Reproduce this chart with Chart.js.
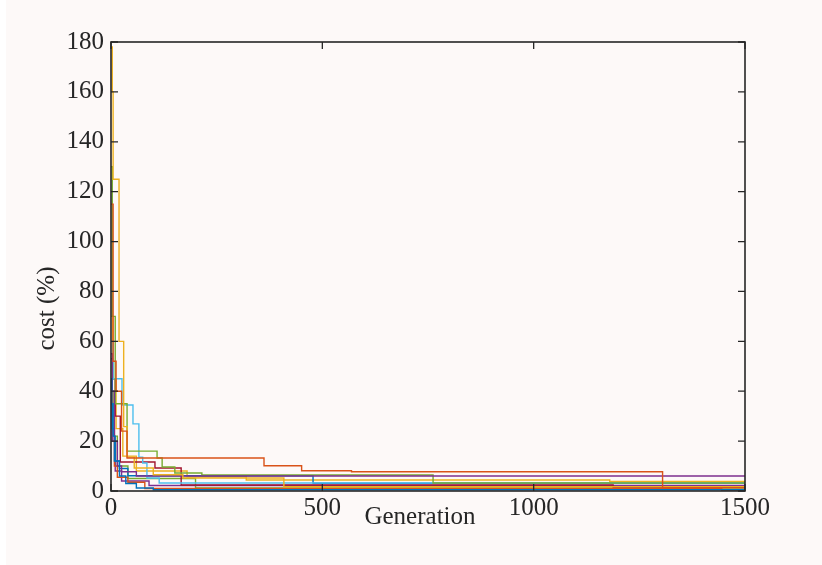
<!DOCTYPE html>
<html>
<head>
<meta charset="utf-8">
<script src="https://cdn.jsdelivr.net/npm/chart.js@4.4.0/dist/chart.umd.min.js"></script>
<style>
  html, body { margin: 0; padding: 0; background: #fdf9f8; }
  #wrap { width: 822px; height: 565px; }
</style>
</head>
<body>
<div id="wrap"><canvas id="myChart" width="822" height="565"></canvas></div>
<script>
// best cost per run: generation where the value changes, and the cost from then on
var run1Gen  = [0, 2, 5, 10, 20, 35, 60, 100, 1500];
var run1Cost = [45, 35, 22, 12, 6, 3, 1.2, 0.5, 0.5];

var run2Gen  = [0, 5, 12, 25, 38, 362, 451, 569, 1305, 1500];
var run2Cost = [115, 52, 40, 24, 13.2, 10.1, 8.1, 7.7, 1.3, 1.3];

var run3Gen  = [0, 3, 5, 19, 30, 38, 55, 100, 170, 409, 1500];
var run3Cost = [178, 160, 125, 60, 25.8, 13.6, 9.2, 6.5, 5.2, 1.7, 1.7];

var run4Gen  = [0, 3, 8, 15, 25, 60, 1500];
var run4Cost = [55, 40, 20, 10, 7.7, 6.0, 6.0];

var run5Gen  = [0, 3, 10, 38, 109, 121, 151, 215, 762, 1500];
var run5Cost = [130, 70, 35, 16, 13.2, 9.6, 7.2, 6.4, 3.2, 3.2];

var run6Gen  = [0, 5, 26, 52, 66, 75, 85, 114, 1500];
var run6Cost = [60, 45, 34.5, 26.9, 13.6, 11.2, 5.2, 3.2, 2.5];

var run7Gen  = [0, 4, 10, 22, 104, 166, 1188, 1500];
var run7Cost = [53, 45, 30, 11.6, 9.2, 2.4, 1.5, 1.5];

var run8Gen  = [0, 3, 8, 20, 40, 478, 1500];
var run8Cost = [35, 25, 12, 9, 6.1, 3.1, 2.8];

var run9Gen  = [0, 3, 8, 15, 40, 80, 1445, 1500];
var run9Cost = [45, 30, 10, 5.5, 3.5, 1.0, 0.3, 0.3];

var run10Gen  = [0, 4, 12, 28, 60, 180, 320, 1180, 1500];
var run10Cost = [70, 45, 25, 14, 8, 5.7, 4.4, 3.8, 3.8];

var run11Gen  = [0, 3, 10, 25, 90, 1500];
var run11Cost = [35, 20, 8, 4, 2.2, 2.2];

var run12Gen  = [0, 5, 15, 40, 200, 1500];
var run12Cost = [40, 22, 10, 5, 1.2, 1.0];

var xTicks = [0, 500, 1000, 1500];
var yTicks = [0, 20, 40, 60, 80, 100, 120, 140, 160, 180];
var xTitle = 'Generation';
var yTitle = 'cost (%)';

// MATLAB default line colours
var colours = ['#0072BD', '#D95319', '#EDB120', '#7E2F8E', '#77AC30', '#4DBEEE', '#A2142F'];

var runs = [
    [run1Gen, run1Cost], [run2Gen, run2Cost], [run3Gen, run3Cost], [run4Gen, run4Cost],
    [run5Gen, run5Cost], [run6Gen, run6Cost], [run7Gen, run7Cost], [run8Gen, run8Cost],
    [run9Gen, run9Cost], [run10Gen, run10Cost], [run11Gen, run11Cost], [run12Gen, run12Cost]
];

var datasets = [];
for (var i = 0; i < runs.length; i++) {
    var pts = [];
    for (var j = 0; j < runs[i][0].length; j++) {
        pts.push({x: runs[i][0][j], y: runs[i][1][j]});
    }
    datasets.push({
        label: 'run ' + (i + 1),
        data: pts,
        borderColor: colours[i % colours.length],
        borderWidth: 1.4,
        pointRadius: 0,
        stepped: 'before',   // hold the value, then drop at the next generation
        fill: false
    });
}

var ink = '#262626';
var serif = "'Liberation Serif', 'Times New Roman', serif";

// white strip + pinkish background
var bgPlugin = {
    id: 'bg',
    beforeDraw: function(chart) {
        var c = chart.ctx;
        c.save();
        c.fillStyle = '#fdf9f8';
        c.fillRect(0, 0, chart.width, chart.height);
        c.fillStyle = '#ffffff';
        c.fillRect(0, 0, 6, chart.height);
        c.restore();
    }
};

// box around the axes with ticks pointing inward, like MATLAB, plus axis labels
var boxPlugin = {
    id: 'box',
    afterDatasetsDraw: function(chart) {
        var c = chart.ctx;
        var a = chart.chartArea;
        var xs = chart.scales.x, ys = chart.scales.y;
        c.save();
        c.strokeStyle = ink;
        c.lineWidth = 1.6;
        c.strokeRect(a.left, a.top, a.right - a.left, a.bottom - a.top);
        c.lineWidth = 1.3;
        c.beginPath();
        yTicks.forEach(function(v) {
            var y = ys.getPixelForValue(v);
            c.moveTo(a.left, y); c.lineTo(a.left + 7, y);
            c.moveTo(a.right, y); c.lineTo(a.right - 7, y);
        });
        xTicks.forEach(function(v) {
            var x = xs.getPixelForValue(v);
            c.moveTo(x, a.bottom); c.lineTo(x, a.bottom - 7);
            c.moveTo(x, a.top); c.lineTo(x, a.top + 7);
        });
        c.stroke();

        // axis labels (sit a little left / low of centre in the original)
        c.fillStyle = ink;
        c.font = '25px ' + serif;
        c.textAlign = 'center';
        c.textBaseline = 'middle';
        c.fillText(xTitle, (a.left + a.right) / 2 - 8, a.bottom + 26);
        c.translate(47, (a.top + a.bottom) / 2 + 42);
        c.rotate(-Math.PI / 2);
        c.fillText(yTitle, 0, 0);
        c.restore();
    }
};

const ctx = document.getElementById('myChart');
var myChart = new Chart(ctx, {
    type: 'line',
    data: { datasets: datasets },
    plugins: [bgPlugin, boxPlugin],
    options: {
        responsive: false,
        animation: false,
        events: [],
        layout: { padding: { top: 42, right: 77, left: 0, bottom: 0 } },
        plugins: { legend: { display: false }, tooltip: { enabled: false } },
        scales: {
            x: {
                type: 'linear',
                min: 0, max: 1500,
                afterFit: function(s) { s.height = 74; },
                afterBuildTicks: function(s) { s.ticks = xTicks.map(function(v) { return {value: v}; }); },
                grid: { display: false, drawTicks: false },
                border: { display: false },
                ticks: { color: ink, padding: 2, maxRotation: 0, font: { family: serif, size: 25 },
                         callback: function(v) { return String(v); } },
                title: { display: false }
            },
            y: {
                min: 0, max: 180,
                afterFit: function(s) { s.width = 111; },
                afterBuildTicks: function(s) { s.ticks = yTicks.map(function(v) { return {value: v}; }); },
                grid: { display: false, drawTicks: false },
                border: { display: false },
                ticks: { color: ink, padding: 7, font: { family: serif, size: 25 },
                         callback: function(v) { return String(v); } },
                title: { display: false }
            }
        }
    }
});
</script>
</body>
</html>
